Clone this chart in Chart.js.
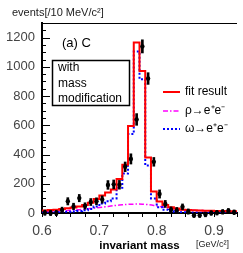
<!DOCTYPE html>
<html>
<head>
<meta charset="utf-8">
<script src="https://cdn.jsdelivr.net/npm/chart.js@4.4.1/dist/chart.umd.min.js"></script>
<style>
  html, body { margin: 0; padding: 0; background: #fff; overflow: hidden; }
</style>
</head>
<body>
<canvas id="massChart" width="243" height="253"></canvas>
<script>
// bin lower edges (10 MeV bins), last entry is the upper edge of the last bin
const binEdges = [0.60, 0.61, 0.62, 0.63, 0.64, 0.65, 0.66, 0.67, 0.68, 0.69, 0.70, 0.71, 0.72, 0.73, 0.74, 0.75, 0.76, 0.77,
  0.78, 0.79, 0.80, 0.81, 0.82, 0.83, 0.84, 0.85, 0.86, 0.87, 0.88, 0.89, 0.90, 0.91, 0.92, 0.93, 0.94];
const binCenters = [0.605, 0.615, 0.625, 0.635, 0.645, 0.655, 0.665, 0.675, 0.685, 0.695, 0.705, 0.715, 0.725, 0.735, 0.745,
  0.755, 0.765, 0.775, 0.785, 0.795, 0.805, 0.815, 0.825, 0.835, 0.845, 0.855, 0.865, 0.875, 0.885, 0.895, 0.905, 0.915, 0.925, 0.935];

// measured events per bin with errors
const dataEvents = [2, 0, 0, 20, 80, 45, 102, 48, 75, 80, 92, 192, 196, 193, 316, 370, 640, 1140, 920, 350, 130, 62,
  22, 18, 42, 10, -15, -15, -10, 0, 2, 8, 15, 5];
const dataErrors = [18, 18, 18, 20, 25, 22, 25, 22, 24, 24, 25, 30, 30, 30, 33, 35, 40, 45, 40, 30, 28, 24,
  20, 20, 20, 18, 16, 16, 16, 16, 16, 16, 16, 16];

// fit components per bin
const fitResult = [15, 17, 20, 22, 28, 33, 38, 45, 55, 70, 95, 120, 140, 160, 232, 330, 595, 1167, 972, 380, 147, 78,
  55, 40, 30, 22, 20, 18, 17, 16, 15, 14, 13, 12];
const omegaFit = [2, 3, 4, 5, 6, 8, 10, 13, 18, 28, 45, 65, 80, 100, 172, 270, 540, 1105, 915, 325, 100, 40,
  22, 12, 8, 5, 3, 3, 2, 2, 2, 2, 2, 2];
const rhoFit = [8, 10, 12, 14, 17, 20, 23, 27, 31, 35, 40, 45, 50, 54, 58, 60, 61, 60, 57, 52, 45, 38,
  32, 27, 23, 20, 18, 17, 16, 15, 14, 13, 13, 12];

const yTickLabels = [0, 200, 400, 600, 800, 1000, 1200];
const xTickLabels = [0.6, 0.7, 0.8, 0.9];

const FONT = "'Liberation Sans', Arial, Helvetica, sans-serif";

// step histogram points: value held from each lower edge to the next
function histPoints(values) {
  const pts = values.map((v, i) => ({ x: binEdges[i], y: v }));
  pts.push({ x: binEdges[values.length], y: values[values.length - 1] });
  return pts;
}

const ctx = document.getElementById("massChart");

// inner ticks, top frame, labels and legend
const frameAndNotes = {
  id: "frameAndNotes",
  afterDraw(chart) {
    const c = chart.ctx;
    const area = chart.chartArea;
    const y = chart.scales.y;
    c.save();
    c.strokeStyle = "#000";
    c.lineWidth = 1;
    // ticks pointing into the plot
    y.ticks.forEach((t) => {
      const py = Math.round(y.getPixelForValue(t.value)) + 0.5;
      const len = yTickLabels.includes(t.value) ? 8 : 4;
      c.beginPath();
      c.moveTo(area.left, py);
      c.lineTo(area.left + len, py);
      c.stroke();
    });
    // top frame
    c.beginPath();
    c.moveTo(area.left, Math.round(area.top) + 0.5);
    c.lineTo(area.right, Math.round(area.top) + 0.5);
    c.stroke();

    c.fillStyle = "#000";
    c.textBaseline = "middle";
    c.textAlign = "left";

    // y axis title, written horizontally above the frame
    c.fillStyle = "#222";
    c.font = "11px " + FONT;
    c.fillText("events[/10 MeV/c\u00b2]", 12, 13);

    // "(a) C"
    c.fillStyle = "#000";
    c.font = "13px " + FONT;
    c.fillText("(a) C", 62, 43);

    // text box
    c.fillStyle = "#fff";
    c.fillRect(52, 60, 78, 46);
    c.lineWidth = 1.5;
    c.strokeRect(52.5, 60.5, 77, 45);
    c.fillStyle = "#000";
    c.font = "12px " + FONT;
    c.fillText("with", 58, 68);
    c.fillText("mass", 58, 84);
    c.fillText("modification", 58, 99);

    // legend
    const rows = [
      { ds: chart.data.datasets[2], label: "fit result", y: 92 },
      { ds: chart.data.datasets[4], label: "\u03c1\u2192e\u207ae\u207b", y: 111 },
      { ds: chart.data.datasets[3], label: "\u03c9\u2192e\u207ae\u207b", y: 129 },
    ];
    rows.forEach((r) => {
      c.strokeStyle = r.ds.borderColor;
      c.lineWidth = r.ds.borderWidth;
      c.setLineDash(r.ds.borderDash || []);
      c.beginPath();
      c.moveTo(163, r.y);
      c.lineTo(180, r.y);
      c.stroke();
      c.setLineDash([]);
      c.fillStyle = "#000";
      c.font = "12px " + FONT;
      c.fillText(r.label, 185, r.y);
    });

    // unit next to the x title
    c.fillStyle = "#222";
    c.font = "9px " + FONT;
    c.fillText("[GeV/c\u00b2]", 196, 245);
    c.restore();
  },
};

new Chart(ctx, {
  type: "line",
  data: {
    datasets: [
      {
        label: "data",
        data: binCenters.map((x, i) => ({ x: x, y: dataEvents[i] })),
        showLine: false,
        pointRadius: 2.2,
        pointBackgroundColor: "#000",
        pointBorderWidth: 0,
        clip: 10,
      },
      {
        type: "bar",
        label: "errors",
        data: binCenters.map((x, i) => ({ x: x, y: [dataEvents[i] - dataErrors[i], dataEvents[i] + dataErrors[i]] })),
        backgroundColor: "#000",
        barThickness: 2,
        clip: 10,
      },
      {
        label: "fit result",
        data: histPoints(fitResult),
        stepped: "after",
        borderColor: "#ff0000",
        borderWidth: 2,
        pointRadius: 0,
      },
      {
        label: "omega",
        data: histPoints(omegaFit),
        stepped: "after",
        borderColor: "#0000ff",
        borderWidth: 2,
        borderDash: [2, 2],
        pointRadius: 0,
      },
      {
        label: "rho",
        data: binCenters.map((x, i) => ({ x: x, y: rhoFit[i] })),
        borderColor: "#ff00ff",
        borderWidth: 1.5,
        borderDash: [5, 2, 1.5, 2],
        tension: 0.3,
        pointRadius: 0,
      },
    ],
  },
  options: {
    responsive: false,
    animation: false,
    devicePixelRatio: 1,
    layout: { padding: { left: 2, right: 0, top: 23, bottom: 0 } },
    plugins: {
      legend: { display: false },
      tooltip: { enabled: false },
    },
    scales: {
      x: {
        type: "linear",
        offset: false,
        min: 0.6,
        max: 0.94,
        afterFit: (s) => { s.height = 40; },
        ticks: {
          stepSize: 0.025,
          autoSkip: false,
          maxRotation: 0,
          padding: 6,
          color: "#444",
          font: { family: FONT, size: 14 },
          callback: (v) => {
            const m = xTickLabels.find((t) => Math.abs(t - v) < 1e-6);
            return m === undefined ? "" : m.toFixed(1);
          },
        },
        grid: { offset: false, drawOnChartArea: false, drawTicks: true, tickLength: 4, color: "#000" },
        border: { display: true, width: 2, color: "#000" },
        title: {
          display: true,
          text: "invariant mass",
          color: "#000",
          font: { family: FONT, size: 11.5, weight: "bold", lineHeight: 1 },
          padding: { top: 0, bottom: 1 },
        },
      },
      y: {
        min: 0,
        max: 1300,
        afterFit: (s) => { s.width = 40; },
        ticks: {
          stepSize: 50,
          autoSkip: false,
          padding: 7,
          color: "#444",
          font: { family: FONT, size: 13 },
          callback: (v) => (yTickLabels.includes(v) ? String(v) : ""),
        },
        grid: { display: false, drawTicks: false },
        border: { display: true, width: 2, color: "#000" },
      },
    },
  },
  plugins: [frameAndNotes],
});
</script>
</body>
</html>
